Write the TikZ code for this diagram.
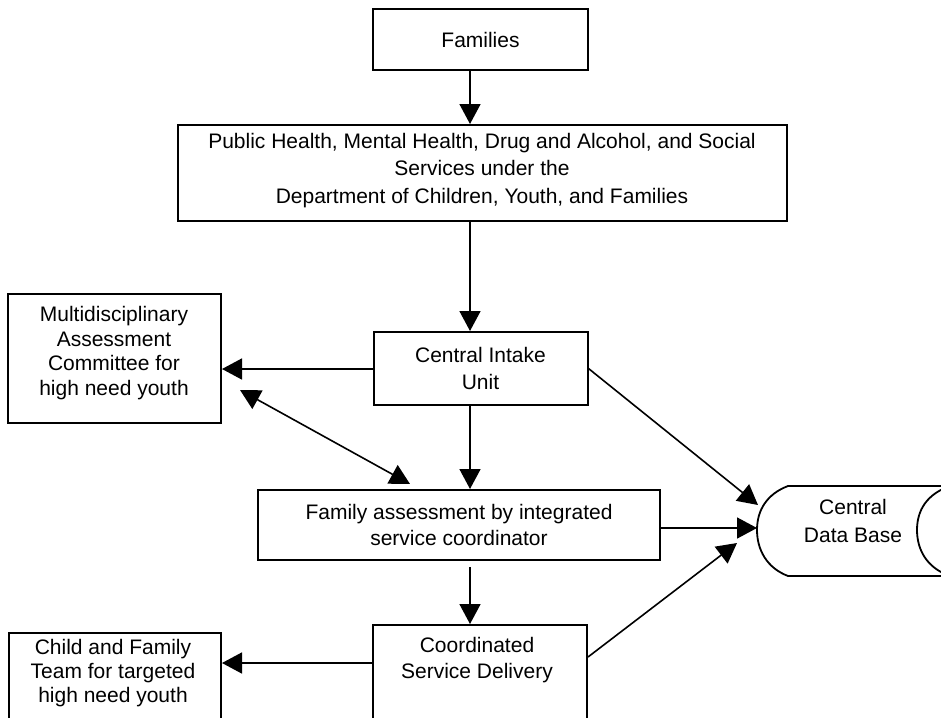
\documentclass[tikz,border=0pt]{standalone}
\usepackage{fontspec}
\setmainfont{Liberation Sans}
\usetikzlibrary{arrows.meta}
\begin{document}
\begin{tikzpicture}[x=1pt,y=-1pt,
  box/.style={draw, line width=2pt, inner sep=0pt},
  txt/.style={align=center, font=\fontsize{21}{24.5}\selectfont, inner sep=0pt},
  wide/.style={font=\fontsize{21}{26.5}\selectfont},
  conn/.style={line width=1.6pt, -{Triangle[length=20pt,width=21pt]}},
  dconn/.style={line width=1.6pt, {Triangle[length=20pt,width=21pt]}-{Triangle[length=20pt,width=21pt]}}]
\useasboundingbox (0,0) rectangle (941,717);
\clip (0,0) rectangle (941,717);
\fill[white] (0,0) rectangle (941,717);

% boxes
\node[box, txt, minimum width=215pt, minimum height=61pt] (fam) at (480.5,39.5) {Families};
\node[box, minimum width=609pt, minimum height=96pt] (pub) at (482.5,173) {};
\node[txt, font=\fontsize{21}{27.5}\selectfont] (pubt) at (482,170.5)
  {Public Health, Mental Health, Drug and Alcohol, and Social\\Services under the\\Department of Children, Youth, and Families};
\node[box, minimum width=213pt, minimum height=129pt] (mac) at (114.5,358.5) {};
\node[txt] (mact) at (114,353)
  {Multidisciplinary\\Assessment\\Committee for\\high need youth};
\node[box, txt, wide, minimum width=214pt, minimum height=73pt] (ci) at (480.5,368.5) {Central Intake\\Unit};
\node[box, txt, wide, minimum width=402pt, minimum height=70pt] (fa) at (459,525)
  {Family assessment by integrated\\service coordinator};
\node[box, minimum width=214pt, minimum height=140pt, anchor=north] (csd) at (480,624) {};
\node[txt, wide] (csdt) at (477,660) {Coordinated\\Service Delivery};
\node[box, minimum width=212pt, minimum height=130pt, anchor=north] (cft) at (115,632) {};
\node[txt, font=\fontsize{21}{24}\selectfont] (cftt) at (113,673) {Child and Family\\Team for targeted\\high need youth};

% central data base (stored data shape)
\draw[line width=1.8pt] (950,486) -- (788,486) .. controls (767,494) and (757,510) .. (757,530)
  .. controls (757,550) and (767,568) .. (788,576) -- (950,576);
\draw[line width=1.8pt] (950,486) .. controls (927,494) and (917,510) .. (917,530)
  .. controls (917,550) and (927,568) .. (950,576);
\node[txt, font=\fontsize{21}{27.5}\selectfont] (cdb) at (853,521) {Central\\Data Base};

% connector helper coordinates
\coordinate (ax) at (470,0);
\coordinate (mcy) at (0,369);
\coordinate (cfy) at (0,663);
\coordinate (csdy) at (0,657);
\coordinate (cdbA) at (758,505);
\coordinate (cdbL) at (757,528);
\coordinate (cdbB) at (737,543);
\coordinate (d1) at (240,390);
\coordinate (d2) at (410,484);

% connectors
\draw[conn] (fam.south -| ax) -- (pub.north -| ax);
\draw[conn] (pub.south -| ax) -- (ci.north -| ax);
\draw[conn] (ci.south -| ax) -- (fa.north -| ax);
\draw[conn, shorten <=6pt] (fa.south -| ax) -- (csd.north -| ax);
\draw[conn] (ci.west |- mcy) -- (mac.east |- mcy);
\draw[conn] (csd.west |- cfy) -- (cft.east |- cfy);
\draw[dconn] (d1) -- (d2);
\draw[conn] (ci.east) -- (cdbA);
\draw[conn] (fa.east |- cdbL) -- (cdbL);
\draw[conn] (csd.east |- csdy) -- (cdbB);
\end{tikzpicture}
\end{document}
